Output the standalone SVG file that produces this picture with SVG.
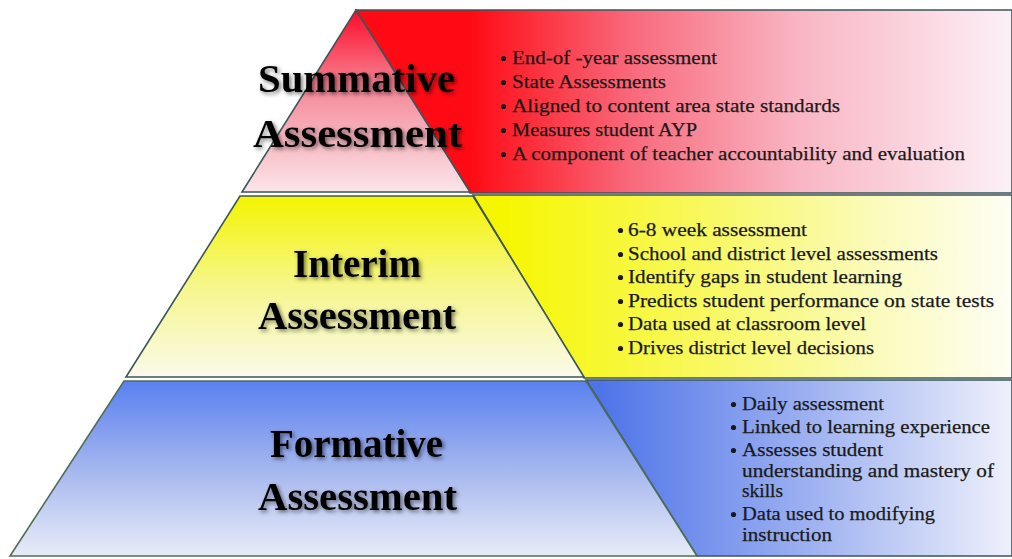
<svg xmlns="http://www.w3.org/2000/svg" width="1012" height="559" viewBox="0 0 1012 559">
  <defs>
    <linearGradient id="gRedBand" gradientUnits="userSpaceOnUse" x1="470" y1="0" x2="1012" y2="0">
      <stop offset="0" stop-color="#ff0a14"/>
      <stop offset="0.3" stop-color="#f86a7c"/>
      <stop offset="0.6" stop-color="#f9b4c2"/>
      <stop offset="1" stop-color="#fcf0f7"/>
    </linearGradient>
    <linearGradient id="gYelBand" gradientUnits="userSpaceOnUse" x1="500" y1="0" x2="1012" y2="0">
      <stop offset="0" stop-color="#f6f600"/>
      <stop offset="0.4" stop-color="#f8f860"/>
      <stop offset="0.75" stop-color="#fbfbc0"/>
      <stop offset="1" stop-color="#fefef4"/>
    </linearGradient>
    <linearGradient id="gBluBand" gradientUnits="userSpaceOnUse" x1="600" y1="0" x2="1012" y2="0">
      <stop offset="0" stop-color="#4e74e8"/>
      <stop offset="0.45" stop-color="#94aaf0"/>
      <stop offset="1" stop-color="#eef0fb"/>
    </linearGradient>
    <linearGradient id="gRedTri" gradientUnits="userSpaceOnUse" x1="0" y1="10" x2="0" y2="192">
      <stop offset="0" stop-color="#ff0a28"/>
      <stop offset="0.45" stop-color="#f58c9c"/>
      <stop offset="1" stop-color="#fbe6ea"/>
    </linearGradient>
    <linearGradient id="gYelTrap" gradientUnits="userSpaceOnUse" x1="0" y1="196" x2="0" y2="377">
      <stop offset="0" stop-color="#f4f400"/>
      <stop offset="0.5" stop-color="#f6f68c"/>
      <stop offset="1" stop-color="#fafaea"/>
    </linearGradient>
    <linearGradient id="gBluTrap" gradientUnits="userSpaceOnUse" x1="0" y1="381" x2="0" y2="556">
      <stop offset="0" stop-color="#5a80f0"/>
      <stop offset="0.5" stop-color="#a4b6ef"/>
      <stop offset="1" stop-color="#e8ecf8"/>
    </linearGradient>
    <filter id="shadow" x="-10%" y="-30%" width="120%" height="160%">
      <feDropShadow dx="2" dy="2" stdDeviation="2" flood-color="#000" flood-opacity="0.55"/>
    </filter>
  </defs>
  <style>
    .edge { stroke: #3b5658; stroke-width: 1.6; stroke-linejoin: miter; }
    .edgeB { stroke: #4f6e55; stroke-width: 1.6; }
    .title { font-family: "Liberation Serif", "Times New Roman", serif; font-weight: bold; font-size: 40px; fill: #000; text-anchor: middle; filter: url(#shadow); }
    .item { font-family: "Liberation Serif", "Times New Roman", serif; font-size: 19px; fill: #1a1a1a; stroke: #1a1a1a; stroke-width: 0.25; }
    .dot { fill: #1a1a1a; }
  </style>
  <rect width="1012" height="559" fill="#ffffff"/>

  <g id="summative-band">
    <polygon class="edge" points="356,10 1012,10 1012,193 470,193" fill="url(#gRedBand)"/>
    <circle class="dot" cx="503.5" cy="58.5" r="2.6"/>
    <text class="item" x="512" y="64" textLength="205" lengthAdjust="spacingAndGlyphs">End-of -year assessment</text>
    <circle class="dot" cx="503.5" cy="82.5" r="2.6"/>
    <text class="item" x="512" y="88" textLength="154" lengthAdjust="spacingAndGlyphs">State Assessments</text>
    <circle class="dot" cx="503.5" cy="106.5" r="2.6"/>
    <text class="item" x="512" y="112" textLength="328" lengthAdjust="spacingAndGlyphs">Aligned to content area state standards</text>
    <circle class="dot" cx="503.5" cy="130.5" r="2.6"/>
    <text class="item" x="512" y="136" textLength="185" lengthAdjust="spacingAndGlyphs">Measures student AYP</text>
    <circle class="dot" cx="503.5" cy="154.5" r="2.6"/>
    <text class="item" x="512" y="160" textLength="453" lengthAdjust="spacingAndGlyphs">A component of teacher accountability and evaluation</text>
  </g>

  <g id="interim-band">
    <polygon class="edge" points="473,195 1012,195 1012,378 584,378" fill="url(#gYelBand)"/>
    <circle class="dot" cx="620.5" cy="230.5" r="2.6"/>
    <text class="item" x="628" y="236" textLength="179" lengthAdjust="spacingAndGlyphs">6-8 week assessment</text>
    <circle class="dot" cx="620.5" cy="254.5" r="2.6"/>
    <text class="item" x="628" y="260" textLength="310" lengthAdjust="spacingAndGlyphs">School and district level assessments</text>
    <circle class="dot" cx="620.5" cy="277.5" r="2.6"/>
    <text class="item" x="628" y="283" textLength="274" lengthAdjust="spacingAndGlyphs">Identify gaps in student learning</text>
    <circle class="dot" cx="620.5" cy="301.5" r="2.6"/>
    <text class="item" x="628" y="307" textLength="366" lengthAdjust="spacingAndGlyphs">Predicts student performance on state tests</text>
    <circle class="dot" cx="620.5" cy="324.5" r="2.6"/>
    <text class="item" x="628" y="330" textLength="238" lengthAdjust="spacingAndGlyphs">Data used at classroom level</text>
    <circle class="dot" cx="620.5" cy="348.5" r="2.6"/>
    <text class="item" x="628" y="354" textLength="246" lengthAdjust="spacingAndGlyphs">Drives district level decisions</text>
  </g>

  <g id="formative-band">
    <polygon class="edge" points="586,380 1012,380 1012,556 697,556" fill="url(#gBluBand)"/>
    <circle class="dot" cx="733.5" cy="404.5" r="2.6"/>
    <text class="item" x="742" y="410" textLength="142" lengthAdjust="spacingAndGlyphs">Daily assessment</text>
    <circle class="dot" cx="733.5" cy="427.5" r="2.6"/>
    <text class="item" x="742" y="433" textLength="248" lengthAdjust="spacingAndGlyphs">Linked to learning experience</text>
    <circle class="dot" cx="733.5" cy="450.5" r="2.6"/>
    <text class="item" x="742" y="456" textLength="141" lengthAdjust="spacingAndGlyphs">Assesses student</text>
    <text class="item" x="742" y="477" textLength="252" lengthAdjust="spacingAndGlyphs">understanding and mastery of</text>
    <text class="item" x="742" y="497" textLength="41" lengthAdjust="spacingAndGlyphs">skills</text>
    <circle class="dot" cx="733.5" cy="514.5" r="2.6"/>
    <text class="item" x="742" y="520" textLength="193" lengthAdjust="spacingAndGlyphs">Data used to modifying</text>
    <text class="item" x="742" y="541" textLength="90" lengthAdjust="spacingAndGlyphs">instruction</text>
  </g>

  <g id="summative-tier">
    <polygon class="edge" points="356,10 470,192 242,192" fill="url(#gRedTri)"/>
    <text class="title" x="356.5" y="92" textLength="197" lengthAdjust="spacingAndGlyphs">Summative</text>
    <text class="title" x="357.5" y="147" textLength="209" lengthAdjust="spacingAndGlyphs">Assessment</text>
  </g>

  <g id="interim-tier">
    <polygon class="edge" points="240,196 473,196 584,377 126,377" fill="url(#gYelTrap)"/>
    <text class="title" x="357" y="277" textLength="128" lengthAdjust="spacingAndGlyphs">Interim</text>
    <text class="title" x="357" y="329" textLength="198" lengthAdjust="spacingAndGlyphs">Assessment</text>
  </g>

  <g id="formative-tier">
    <polygon class="edgeB" points="124,381 586,381 697,556 10,556" fill="url(#gBluTrap)"/>
    <text class="title" x="356.5" y="457" textLength="173" lengthAdjust="spacingAndGlyphs">Formative</text>
    <text class="title" x="357.5" y="510" textLength="199" lengthAdjust="spacingAndGlyphs">Assessment</text>
  </g>

  <g id="connectors"></g>
</svg>
